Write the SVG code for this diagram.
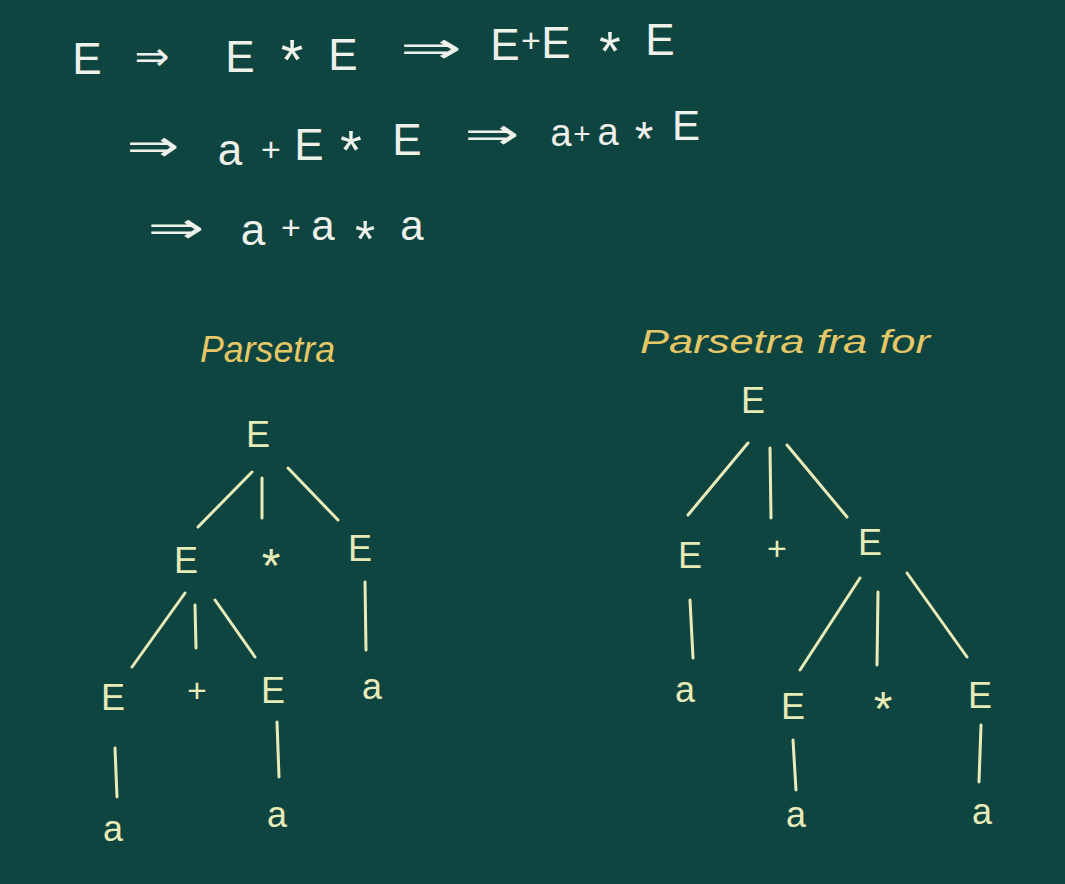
<svg xmlns="http://www.w3.org/2000/svg" width="1065" height="884" viewBox="0 0 1065 884">
<style>
.d{font-family:"Liberation Sans",Arial,sans-serif;fill:#eef0ea;text-anchor:middle}
.ar{font-family:"DejaVu Sans",sans-serif;fill:#eef0ea;text-anchor:middle}
.h{font-family:"Liberation Sans",Arial,sans-serif;fill:#e6c766;font-style:italic}
.n{font-family:"Liberation Sans",Arial,sans-serif;fill:#e8ebb8;text-anchor:middle;font-size:36px}
.st{font-size:48px}
.pl{font-size:34px}
.e line{stroke:#e8ebb8;stroke-width:3;stroke-linecap:round;fill:none}
</style>
<rect width="1065" height="884" fill="#0e4541"/>
<g id="derivation">
<text class="d" x="87" y="74" font-size="44">E</text>
<text class="ar" x="152" y="70" font-size="40" textLength="35" lengthAdjust="spacingAndGlyphs">⇒</text>
<text class="d" x="240" y="72" font-size="44">E</text>
<text class="d" x="292" y="80" font-size="58">*</text>
<text class="d" x="343" y="70" font-size="44">E</text>
<text class="ar" x="431" y="63" font-size="44" textLength="62" lengthAdjust="spacingAndGlyphs">⇒</text>
<text class="d" x="505" y="60" font-size="44">E</text>
<text class="d" x="531" y="52" font-size="34">+</text>
<text class="d" x="556" y="58" font-size="44">E</text>
<text class="d" x="610" y="70" font-size="56">*</text>
<text class="d" x="660" y="55" font-size="44">E</text>

<text class="ar" x="153" y="161" font-size="44" textLength="53" lengthAdjust="spacingAndGlyphs">⇒</text>
<text class="d" x="230" y="165" font-size="44">a</text>
<text class="d" x="271" y="161" font-size="34">+</text>
<text class="d" x="309" y="160" font-size="44">E</text>
<text class="d" x="351" y="169" font-size="56">*</text>
<text class="d" x="407" y="155" font-size="44">E</text>
<text class="ar" x="492" y="149" font-size="44" textLength="55" lengthAdjust="spacingAndGlyphs">⇒</text>
<text class="d" x="561" y="146" font-size="38">a</text>
<text class="d" x="582" y="144" font-size="30">+</text>
<text class="d" x="608" y="145" font-size="38">a</text>
<text class="d" x="644" y="155" font-size="48">*</text>
<text class="d" x="686" y="140" font-size="42">E</text>

<text class="ar" x="176" y="243" font-size="44" textLength="57" lengthAdjust="spacingAndGlyphs">⇒</text>
<text class="d" x="253" y="245" font-size="44">a</text>
<text class="d" x="291" y="239" font-size="34">+</text>
<text class="d" x="323" y="240" font-size="42">a</text>
<text class="d" x="365" y="257" font-size="52">*</text>
<text class="d" x="412" y="240" font-size="42">a</text>
</g>
<g id="heading-left"><text class="h" x="200" y="362" font-size="36" textLength="135" lengthAdjust="spacingAndGlyphs">Parsetra</text></g>
<g id="heading-right"><text class="h" x="640" y="353" font-size="34" textLength="290" lengthAdjust="spacingAndGlyphs">Parsetra fra for</text></g>

<g id="connectors" class="e">
<line x1="252" y1="472" x2="198" y2="527"/>
<line x1="262" y1="478" x2="262" y2="518"/>
<line x1="288" y1="468" x2="338" y2="520"/>
<line x1="185" y1="593" x2="132" y2="667"/>
<line x1="195" y1="605" x2="196" y2="648"/>
<line x1="215" y1="600" x2="255" y2="657"/>
<line x1="365" y1="582" x2="366" y2="650"/>
<line x1="115" y1="748" x2="117" y2="797"/>
<line x1="277" y1="722" x2="279" y2="777"/>

<line x1="748" y1="443" x2="688" y2="515"/>
<line x1="770" y1="448" x2="771" y2="518"/>
<line x1="787" y1="445" x2="847" y2="517"/>
<line x1="690" y1="600" x2="693" y2="658"/>
<line x1="860" y1="578" x2="800" y2="670"/>
<line x1="878" y1="592" x2="877" y2="665"/>
<line x1="907" y1="573" x2="967" y2="657"/>
<line x1="793" y1="740" x2="796" y2="790"/>
<line x1="981" y1="725" x2="979" y2="782"/>
</g>

<g id="lt-root"><text class="n" x="258" y="447">E</text></g>
<g id="lt-E1"><text class="n" x="186" y="573">E</text></g>
<g id="lt-star"><text class="n st" x="271" y="582">*</text></g>
<g id="lt-E2"><text class="n" x="360" y="561">E</text></g>
<g id="lt-E3"><text class="n" x="113" y="710">E</text></g>
<g id="lt-plus"><text class="n pl" x="197" y="702">+</text></g>
<g id="lt-E4"><text class="n" x="273" y="703">E</text></g>
<g id="lt-a1"><text class="n" x="372" y="699">a</text></g>
<g id="lt-a2"><text class="n" x="113" y="841">a</text></g>
<g id="lt-a3"><text class="n" x="277" y="827">a</text></g>

<g id="rt-root"><text class="n" x="753" y="413">E</text></g>
<g id="rt-E1"><text class="n" x="690" y="568">E</text></g>
<g id="rt-plus"><text class="n pl" x="777" y="560">+</text></g>
<g id="rt-E2"><text class="n" x="870" y="555">E</text></g>
<g id="rt-a1"><text class="n" x="685" y="702">a</text></g>
<g id="rt-E3"><text class="n" x="793" y="719">E</text></g>
<g id="rt-star"><text class="n st" x="883" y="725">*</text></g>
<g id="rt-E4"><text class="n" x="980" y="708">E</text></g>
<g id="rt-a2"><text class="n" x="796" y="827">a</text></g>
<g id="rt-a3"><text class="n" x="982" y="824">a</text></g>
</svg>
